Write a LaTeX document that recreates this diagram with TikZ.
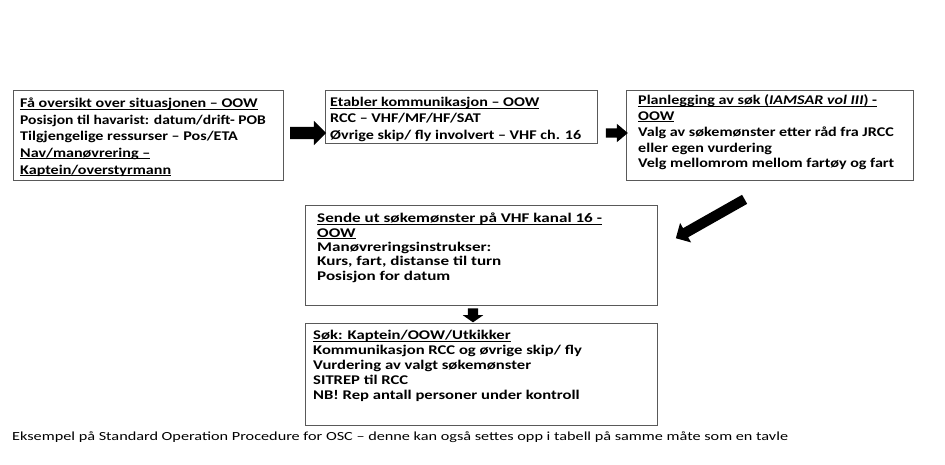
\documentclass[tikz,border=0pt]{standalone}
\usepackage{fontspec}
\setmainfont{Carlito}
\newfontfamily\fontA{Carlito}[FakeStretch=1.21]
\newfontfamily\fontN{Carlito}[FakeStretch=1.17]
\newfontfamily\fontB{Carlito}[FakeStretch=1.25]
\newfontfamily\fontD{Carlito}[FakeStretch=1.285]
\newfontfamily\fontC{Carlito}[FakeStretch=1.31]
\usetikzlibrary{shapes.arrows}
\newcommand\myul[1]{\setbox0\hbox{#1}\rlap{\rule[-2pt]{\wd0}{1pt}}\box0}
\newcommand\tstrut{\rule{0pt}{11pt}}
\tikzset{
  box/.style={draw=black!65, line width=0.9pt, anchor=north west, inner sep=0pt},
  txt/.style={anchor=north west, inner sep=0pt, align=left},
  fat/.style={single arrow, fill=black, draw=none, single arrow head indent=0pt, inner sep=0pt, outer sep=0pt},
}
\begin{document}
\begin{tikzpicture}[x=1pt,y=1pt]
\useasboundingbox (0,0) rectangle (945,-465);
\fill[white] (0,0) rectangle (945,-465);
% boxes
\node[box, minimum width=270, minimum height=90] (b1) at (13,-90) {};
\node[box, minimum width=272, minimum height=53] (b2) at (325,-90) {};
\node[box, minimum width=287, minimum height=90] (b3) at (626,-90) {};
\node[box, minimum width=352, minimum height=100] (b4) at (305,-205) {};
\node[box, minimum width=352, minimum height=102] (b5) at (305,-323) {};
% texts
\node[txt, font=\fontA\bfseries\fontsize{13.3}{16.6}\selectfont] (t1) at (20,-96.5) {\tstrut\myul{Få oversikt over situasjonen – OOW}\\{\fontN\bfseries\fontsize{13.3}{16.6}\selectfont Posisjon til havarist: datum/drift- POB}\\Tilgjengelige ressurser – Pos/ETA\\\myul{Nav/manøvrering –}\\\myul{Kaptein/overstyrmann}};
\node[txt, font=\fontA\bfseries\fontsize{13.3}{16.2}\selectfont] (t2) at (330,-95.5) {\tstrut\myul{Etabler kommunikasjon – OOW}\\RCC – VHF/MF/HF/SAT\\Øvrige skip/ fly involvert – VHF ch. 16};
\node[txt, font=\fontA\bfseries\fontsize{13.3}{15.8}\selectfont] (t3) at (638,-93.5) {\tstrut\myul{Planlegging av søk (\textit{IAMSAR vol III}) -}\\\myul{OOW}\\Valg av søkemønster etter råd fra JRCC\\eller egen vurdering\\Velg mellomrom mellom fartøy og fart};
\node[txt, font=\fontD\bfseries\fontsize{13.3}{14.4}\selectfont] (t4) at (317,-211.5) {\tstrut\myul{Sende ut søkemønster på VHF kanal 16 -}\\\myul{OOW}\\Manøvreringsinstrukser:\\Kurs, fart, distanse til turn\\Posisjon for datum};
\node[txt, font=\fontB\bfseries\fontsize{13.3}{15}\selectfont] (t5) at (313,-328.5) {\tstrut\myul{Søk: Kaptein/OOW/Utkikker}\\Kommunikasjon RCC og øvrige skip/ fly\\Vurdering av valgt søkemønster\\SITREP til RCC\\NB! Rep antall personer under kontroll};
% fat arrows
\node[fat, minimum height=36, minimum width=24, inner sep=6pt, single arrow head extend=6pt] (a1) at (305,-133) {};
\node[fat, minimum height=22, minimum width=18, inner sep=4.5pt, single arrow head extend=4.5pt, single arrow tip angle=80] (a2) at (614,-133) {};
\node[fat, minimum height=79, minimum width=22, inner sep=5pt, single arrow head extend=6pt, rotate=209.5] (a3) at (712.5,-217.5) {};
\node[fat, minimum height=12, minimum width=20, inner sep=5pt, single arrow head extend=5pt, single arrow tip angle=110, rotate=270] (a4) at (473,-313.5) {};
% caption
\node[anchor=base west, inner sep=0pt, font=\fontC\fontsize{12.4}{14}\selectfont] (cap) at (12,-440) {Eksempel på Standard Operation Procedure for OSC – denne kan også settes opp i tabell på samme måte som en tavle};
\end{tikzpicture}
\end{document}
